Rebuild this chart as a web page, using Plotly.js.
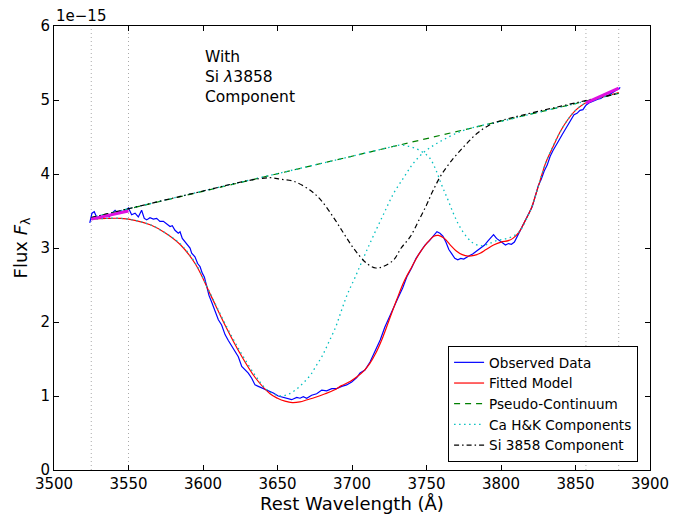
<!DOCTYPE html>
<html>
<head>
<meta charset="utf-8">
<script src="https://cdn.plot.ly/plotly-3.0.1.min.js"></script>
<style>html,body{margin:0;padding:0;background:#fff;}#chart{width:688px;height:517px;}</style>
</head>
<body>
<div id="chart"></div>
<script>
// Flux values are in units of 1e-15
const obsWave = [3524,3525.5,3527,3529,3531,3533,3535,3537,3539,3541,3543,3545,3547,3549,3550,3552.1,3554.4,3556.6,3558.8,3560.6,3562.2,3564.4,3566.7,3568.9,3571.1,3573.4,3575.6,3577.9,3579.4,3581.2,3583.4,3584.6,3586.1,3587.9,3589.7,3591.3,3592.4,3594.6,3596.4,3598,3599.5,3600.9,3602.5,3604,3605.8,3608,3610.3,3612.5,3614.8,3617,3619.3,3621.5,3623.7,3626,3628.2,3630.4,3632.7,3634.9,3637.1,3640.5,3643.8,3647.2,3650.5,3653.9,3657.3,3659.5,3662.9,3665.1,3667.3,3669.6,3672.9,3676.3,3679.7,3683,3686.4,3689.7,3693.1,3696.4,3699.8,3703.2,3705.4,3708.7,3712.1,3715.4,3719,3722,3725,3728,3731,3734,3737,3740,3743,3746,3749,3752,3755,3757,3759,3761,3763,3765,3767,3769,3771,3773,3775,3777,3779,3781,3783,3785,3787,3789,3791,3793,3795,3797,3799,3801,3803,3805,3807,3809,3811,3813,3815,3817,3819,3821,3823,3825,3827,3829,3831,3833,3835,3837,3839,3841,3843,3845,3847,3849,3851,3853,3855,3857,3859,3861,3863,3865,3867,3869,3871,3873,3875,3877,3879,3880];
const obsFlux = [3.34,3.47,3.49,3.40,3.44,3.41,3.45,3.42,3.47,3.51,3.47,3.50,3.49,3.52,3.54,3.45,3.47,3.42,3.51,3.40,3.38,3.41,3.39,3.40,3.36,3.36,3.33,3.29,3.30,3.24,3.20,3.22,3.13,3.09,3.04,3.00,2.93,2.88,2.79,2.75,2.66,2.61,2.48,2.36,2.27,2.16,2.03,1.96,1.83,1.75,1.67,1.60,1.53,1.40,1.35,1.31,1.24,1.15,1.13,1.10,1.06,1.04,1.00,0.98,0.97,0.95,0.98,0.97,0.99,0.97,1.01,1.03,1.08,1.07,1.10,1.10,1.13,1.15,1.19,1.25,1.31,1.35,1.46,1.60,1.76,1.93,2.07,2.20,2.33,2.46,2.62,2.73,2.86,2.95,3.04,3.10,3.17,3.22,3.20,3.16,3.08,2.98,2.92,2.86,2.84,2.86,2.85,2.88,2.90,2.92,2.95,2.98,3.01,3.04,3.09,3.14,3.18,3.13,3.10,3.08,3.04,3.06,3.05,3.08,3.16,3.24,3.32,3.40,3.48,3.56,3.70,3.84,3.93,4.04,4.12,4.24,4.32,4.40,4.46,4.53,4.60,4.67,4.74,4.80,4.82,4.86,4.87,4.93,4.96,4.98,5.00,5.01,5.02,5.05,5.05,5.08,5.10,5.13,5.15,5.17];

const modelWave = [3525,3535,3545,3555,3565,3575,3585,3595,3605,3615,3625,3635,3645,3650,3655,3660,3665,3670,3675,3682,3688,3693,3699,3704,3708,3712,3716,3720,3725,3730,3735,3740,3745,3750,3755,3758,3762,3766,3770,3774,3778,3782,3786,3790,3795,3800,3805,3808,3812,3816,3820,3825,3830,3835,3840,3845,3850,3855,3860,3866,3872,3879];
const modelFlux = [3.39,3.40,3.40,3.37,3.31,3.20,3.04,2.78,2.37,1.95,1.57,1.25,1.03,0.97,0.93,0.91,0.92,0.95,0.98,1.03,1.08,1.14,1.20,1.27,1.34,1.44,1.58,1.76,2.03,2.30,2.55,2.74,2.92,3.06,3.16,3.17,3.13,3.04,2.96,2.91,2.89,2.90,2.93,2.98,3.04,3.08,3.10,3.13,3.21,3.36,3.52,3.83,4.15,4.37,4.58,4.74,4.86,4.94,4.99,5.03,5.06,5.10];

const contWave = [3525,3879];
const contFlux = [3.41,5.09];

const caWave1 = [3525,3535,3545,3555,3565,3575,3585,3595,3605,3615,3625,3635,3642,3647,3652,3657,3662,3667,3672,3676,3680,3684,3689,3693,3697,3702,3708,3714,3721,3728,3735,3741,3748,3755,3762,3770,3778,3788,3798,3820,3850,3879];
const caFlux1 = [3.39,3.40,3.40,3.37,3.31,3.20,3.05,2.79,2.38,1.97,1.60,1.28,1.10,1.03,1.00,1.02,1.08,1.17,1.28,1.41,1.54,1.71,1.93,2.16,2.38,2.60,2.88,3.15,3.45,3.74,3.96,4.14,4.29,4.39,4.47,4.55,4.61,4.66,4.70,4.81,4.95,5.09];

const caWave2 = [3525,3600,3700,3725,3732,3737,3742,3747,3752,3756,3760,3764,3768,3772,3777,3781,3786,3791,3797,3804,3810,3814,3818,3822,3826,3830,3835,3840,3845,3850,3855,3860,3866,3872,3879];
const caFlux2 = [3.41,3.77,4.24,4.36,4.39,4.38,4.35,4.30,4.22,4.07,3.86,3.67,3.47,3.30,3.15,3.07,3.03,3.05,3.10,3.13,3.18,3.27,3.43,3.63,3.90,4.15,4.38,4.58,4.74,4.86,4.94,4.99,5.03,5.06,5.09];

const siWave = [3525,3600,3630,3645,3652,3661,3672,3679,3688,3695,3702,3710,3716,3721,3728,3733,3739,3745,3750,3754,3760,3768,3776,3784,3792,3798,3879];
const siFlux = [3.41,3.77,3.91,3.95,3.93,3.90,3.78,3.65,3.40,3.18,2.97,2.79,2.73,2.75,2.84,3.00,3.15,3.38,3.58,3.76,3.99,4.21,4.39,4.55,4.66,4.71,5.09];

const fitWinWaveL = [3525,3550];
const fitWinFluxL = [3.39,3.50];
const fitWinWaveR = [3857,3879];
const fitWinFluxR = [4.96,5.16];

const windowEdges = [3525,3550,3857,3879];
const xTicks = [3500,3550,3600,3650,3700,3750,3800,3850,3900];
const yTicks = [0,1,2,3,4,5,6];

const F = 'DejaVu Sans, sans-serif';

const traces = [
  {x: obsWave, y: obsFlux, mode: 'lines', name: 'Observed Data', line: {color: '#0000ff', width: 1.2}},
  {x: modelWave, y: modelFlux, mode: 'lines', name: 'Fitted Model', line: {color: '#ff0000', width: 1.2, shape: 'spline'}},
  {x: contWave, y: contFlux, mode: 'lines', name: 'Pseudo-Continuum', line: {color: '#008000', width: 1.2, dash: '6px,5px'}},
  {x: caWave1, y: caFlux1, mode: 'lines', name: 'Ca H&K Components', legendgroup: 'ca', line: {color: '#00bfbf', width: 1.3, dash: '1.5px,3.5px', shape: 'spline'}},
  {x: caWave2, y: caFlux2, mode: 'lines', name: 'Ca H&K Components', legendgroup: 'ca', showlegend: false, line: {color: '#00bfbf', width: 1.3, dash: '1.5px,3.5px', shape: 'spline'}},
  {x: siWave, y: siFlux, mode: 'lines', name: 'Si 3858 Component', line: {color: '#000000', width: 1.2, dash: '5px,3px,1.5px,3px', shape: 'spline'}},
  {x: fitWinWaveL, y: fitWinFluxL, mode: 'lines', showlegend: false, hoverinfo: 'skip', line: {color: '#e010e0', width: 3}},
  {x: fitWinWaveR, y: fitWinFluxR, mode: 'lines', showlegend: false, hoverinfo: 'skip', line: {color: '#e010e0', width: 3}}
];

const shapes = windowEdges.map(w => ({
  type: 'line', xref: 'x', yref: 'paper', x0: w, x1: w, y0: 0, y1: 1, layer: 'below',
  line: {color: '#aaaaaa', width: 1, dash: '1px,3px'}
}));

const axisCommon = {
  showgrid: false, zeroline: false, showline: true, linecolor: '#000', linewidth: 1,
  mirror: 'ticks', ticks: 'inside', ticklen: 5, tickwidth: 1, tickcolor: '#000',
  tickfont: {family: F, size: 15, color: '#000'}
};

const layout = {
  width: 688, height: 517,
  margin: {l: 54, r: 38, t: 26, b: 47, pad: 0},
  paper_bgcolor: '#fff', plot_bgcolor: '#fff',
  font: {family: F, color: '#000'},
  showlegend: true,
  xaxis: Object.assign({}, axisCommon, {
    range: [3500, 3900], tickvals: xTicks, ticktext: xTicks.map(String),
    title: {text: 'Rest Wavelength (Å)', font: {family: F, size: 18}, standoff: 5}
  }),
  yaxis: Object.assign({}, axisCommon, {
    range: [0, 6], tickvals: yTicks, ticktext: yTicks.map(String),
    title: {text: 'Flux <i>F</i><sub>λ</sub>', font: {family: F, size: 18}, standoff: 8}
  }),
  legend: {
    x: 0.98, y: 0.018, xanchor: 'right', yanchor: 'bottom',
    bgcolor: '#fff', bordercolor: '#000', borderwidth: 1,
    font: {family: F, size: 13.6, color: '#000'}, traceorder: 'normal'
  },
  shapes: shapes,
  annotations: [
    {xref: 'paper', yref: 'paper', x: 0, y: 1, xanchor: 'left', yanchor: 'bottom', yshift: -1,
     text: '1e−15', showarrow: false, font: {family: F, size: 15}},
    {xref: 'x', yref: 'y', x: 3600, y: 5.73, xanchor: 'left', yanchor: 'top', align: 'left',
     text: 'With<br>Si <i>λ</i>3858<br>Component', showarrow: false, font: {family: F, size: 15.5}}
  ]
};

Plotly.newPlot('chart', traces, layout, {displayModeBar: false, staticPlot: true});
</script>
</body>
</html>
